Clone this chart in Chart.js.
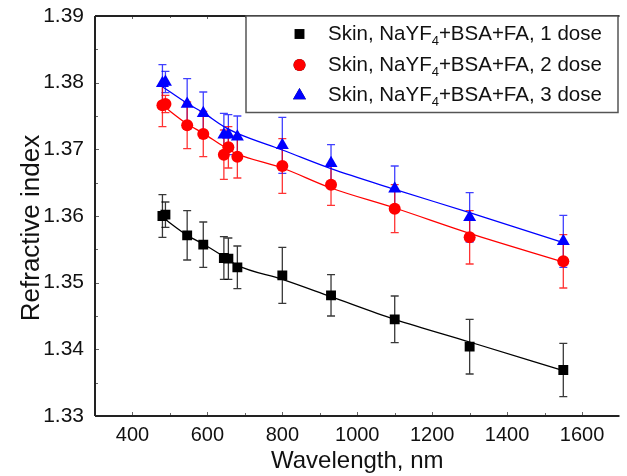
<!DOCTYPE html>
<html>
<head>
<meta charset="utf-8">
<script src="https://cdn.jsdelivr.net/npm/chart.js@4/dist/chart.umd.min.js"></script>
<style>
  html, body { margin: 0; padding: 0; background: #fff; }
  #wrap { width: 627px; height: 476px; position: relative; }
</style>
</head>
<body>
<div id="wrap"><canvas id="c" width="627" height="476"></canvas></div>
<script>
// ---- data ----
const wavelengths = [480, 488, 546, 589, 644, 656, 680, 800, 930, 1100, 1300, 1550];

const dose1 = [1.3600, 1.3602, 1.3571, 1.3557, 1.3537, 1.3536, 1.3523, 1.3511, 1.3481, 1.3445, 1.3404, 1.3369];
const dose1Err = [0.0032, 0.0019, 0.0037, 0.0034, 0.0032, 0.0031, 0.0032, 0.0042, 0.0031, 0.0035, 0.0041, 0.0040];

const dose2 = [1.3766, 1.3768, 1.3736, 1.3723, 1.3692, 1.3703, 1.3689, 1.3675, 1.3647, 1.3611, 1.3568, 1.3532];
const dose2Err = [0.0032, 0.0013, 0.0035, 0.0034, 0.0037, 0.0031, 0.0032, 0.0041, 0.0031, 0.0036, 0.0040, 0.0040];

const dose3 = [1.3799, 1.3801, 1.3768, 1.3754, 1.3722, 1.3722, 1.3719, 1.3706, 1.3679, 1.3641, 1.3598, 1.3562];
const dose3Err = [0.0028, 0.0016, 0.0038, 0.0032, 0.0032, 0.0030, 0.0031, 0.0042, 0.0028, 0.0034, 0.0037, 0.0039];

// fitted curves
const fitX = [480, 546, 589, 644, 680, 800, 930, 1100, 1300, 1550];
const fit1 = [1.3598, 1.3571, 1.3558, 1.3539, 1.3526, 1.3505, 1.3479, 1.3445, 1.3411, 1.3368];
const fit2 = [1.3766, 1.3738, 1.3724, 1.3704, 1.3693, 1.3672, 1.3642, 1.3612, 1.3574, 1.3531];
const fit3 = [1.3794, 1.3769, 1.3755, 1.3734, 1.3724, 1.3699, 1.3671, 1.3640, 1.3605, 1.3560];

const seriesNames = ['1 dose', '2 dose', '3 dose'];
const xTicks = [400, 600, 800, 1000, 1200, 1400, 1600];
const xMinorTicks = [500, 700, 900, 1100, 1300, 1500];
const yTicks = [1.33, 1.34, 1.35, 1.36, 1.37, 1.38, 1.39];
const yMinorTicks = [1.335, 1.345, 1.355, 1.365, 1.375, 1.385];

// ---- build ----
const FONT = "'Liberation Sans', Arial, sans-serif";
const colors = ['#000000', '#ff0000', '#0000ff'];
const errColors = ['rgba(0,0,0,0.78)', 'rgba(255,0,0,0.8)', 'rgba(0,0,255,0.75)'];
const styles = ['rect', 'circle', 'triangle'];
const radii = [7, 6, 7.5];
const vals = [dose1, dose2, dose3];
const errs = [dose1Err, dose2Err, dose3Err];
const fits = [fit1, fit2, fit3];

const pts = (xs, ys) => xs.map((x, i) => ({ x: x, y: ys[i] }));

const datasets = [];
// points (first = drawn on top)
for (let s = 2; s >= 0; s--) {
  datasets.push({
    type: 'scatter',
    label: seriesNames[s],
    data: pts(wavelengths, vals[s]),
    errs: errs[s],
    errColor: errColors[s],
    pointStyle: styles[s],
    pointRadius: radii[s],
    pointBackgroundColor: colors[s],
    pointBorderColor: colors[s],
    pointBorderWidth: 0,
    showLine: false,
    isPoints: true
  });
}
for (let s = 2; s >= 0; s--) {
  datasets.push({
    type: 'line',
    label: 'fit ' + seriesNames[s],
    data: pts(fitX, fits[s]),
    borderColor: colors[s],
    borderWidth: 1.3,
    pointRadius: 0,
    fill: false,
    cubicInterpolationMode: 'monotone'
  });
}

const errorBars = {
  id: 'errorBars',
  beforeDatasetsDraw(chart) {
    const ctx = chart.ctx, xs = chart.scales.x, ys = chart.scales.y;
    ctx.save();
    chart.data.datasets.forEach(ds => {
      if (!ds.isPoints) return;
      ctx.strokeStyle = ds.errColor;
      ctx.lineWidth = 1.3;
      ds.data.forEach((p, i) => {
        const e = ds.errs[i];
        const px = xs.getPixelForValue(p.x);
        const y1 = ys.getPixelForValue(p.y + e);
        const y2 = ys.getPixelForValue(p.y - e);
        ctx.beginPath();
        ctx.moveTo(px, y1); ctx.lineTo(px, y2);
        ctx.moveTo(px - 4, y1); ctx.lineTo(px + 4, y1);
        ctx.moveTo(px - 4, y2); ctx.lineTo(px + 4, y2);
        ctx.stroke();
      });
    });
    ctx.restore();
  }
};

const frame = {
  id: 'frame',
  afterDraw(chart) {
    const ctx = chart.ctx, a = chart.chartArea, xs = chart.scales.x, ys = chart.scales.y;
    ctx.save();
    // ticks (inward)
    ctx.strokeStyle = '#666';
    ctx.lineWidth = 1;
    ctx.beginPath();
    xTicks.forEach(v => { const p = Math.round(xs.getPixelForValue(v)) + 0.5;
      ctx.moveTo(p, a.bottom); ctx.lineTo(p, a.bottom - 4);
      ctx.moveTo(p, a.top); ctx.lineTo(p, a.top + 3); });
    xMinorTicks.forEach(v => { const p = Math.round(xs.getPixelForValue(v)) + 0.5;
      ctx.moveTo(p, a.bottom); ctx.lineTo(p, a.bottom - 3);
      ctx.moveTo(p, a.top); ctx.lineTo(p, a.top + 2); });
    yTicks.forEach(v => { const p = Math.round(ys.getPixelForValue(v)) + 0.5;
      ctx.moveTo(a.left, p); ctx.lineTo(a.left + 4, p); });
    yMinorTicks.forEach(v => { const p = Math.round(ys.getPixelForValue(v)) + 0.5;
      ctx.moveTo(a.left, p); ctx.lineTo(a.left + 3, p); });
    ctx.stroke();
    // axes frame
    ctx.strokeStyle = '#222';
    ctx.lineWidth = 2;
    ctx.beginPath();
    ctx.moveTo(a.left, a.top); ctx.lineTo(a.right, a.top);
    ctx.moveTo(a.left, a.top); ctx.lineTo(a.left, a.bottom);
    ctx.moveTo(a.left, a.bottom); ctx.lineTo(a.right, a.bottom);
    ctx.stroke();

    // legend box
    const lx = 246, ly = a.top, lw = 372, lh = 112.5 - a.top;
    ctx.fillStyle = '#fff';
    ctx.fillRect(lx, ly, lw, lh);
    ctx.strokeStyle = '#555';
    ctx.lineWidth = 1.5;
    ctx.strokeRect(lx, ly, lw, lh);
    const rowsY = [34, 65, 95.5];
    for (let s = 0; s < 3; s++) {
      const cy = rowsY[s];
      Chart.helpers.drawPoint(ctx, {
        pointStyle: styles[s], radius: [7, 6, 7.5][s], borderWidth: 0, rotation: 0
      }, 299.5, cy);
      ctx.fillStyle = colors[s];
      ctx.fill();
      // text
      ctx.fillStyle = '#111';
      ctx.textBaseline = 'middle';
      ctx.textAlign = 'left';
      ctx.font = '20.5px ' + FONT;
      let x = 328;
      const t1 = 'Skin, NaYF';
      ctx.fillText(t1, x, cy);
      x += ctx.measureText(t1).width;
      ctx.font = '13px ' + FONT;
      ctx.fillText('4', x, cy + 7);
      x += ctx.measureText('4').width;
      ctx.font = '20.5px ' + FONT;
      ctx.fillText('+BSA+FA, ' + seriesNames[s], x, cy);
    }

    // y axis title
    ctx.save();
    ctx.translate(32, 228);
    ctx.rotate(-Math.PI / 2);
    ctx.font = '26px ' + FONT;
    ctx.fillStyle = '#111';
    ctx.textAlign = 'center';
    ctx.textBaseline = 'middle';
    ctx.fillText('Refractive index', 0, 0);
    ctx.restore();
    ctx.restore();
  }
};

new Chart(document.getElementById('c'), {
  data: { datasets: datasets },
  options: {
    responsive: false,
    animation: false,
    devicePixelRatio: 1,
    layout: { padding: { top: 16, right: 0, left: 0, bottom: 0 } },
    plugins: { legend: { display: false }, tooltip: { enabled: false } },
    scales: {
      x: {
        type: 'linear', position: 'bottom', min: 300, max: 1700,
        grid: { display: false }, border: { display: false },
        afterBuildTicks: sc => { sc.ticks = xTicks.map(v => ({ value: v })); },
        afterFit: sc => { sc.height = 60; },
        ticks: { color: '#111', font: { family: FONT, size: 20, lineHeight: 1 }, padding: 1, maxRotation: 0, autoSkip: false, callback: v => String(v) },
        title: { display: true, text: 'Wavelength, nm', color: '#111', font: { family: FONT, size: 24 }, padding: { top: 0, bottom: 0 } }
      },
      y: {
        type: 'linear', min: 1.33, max: 1.39,
        grid: { display: false }, border: { display: false },
        afterBuildTicks: sc => { sc.ticks = yTicks.map(v => ({ value: v })); },
        afterFit: sc => { sc.width = 95; },
        ticks: { color: '#111', font: { family: FONT, size: 21 }, padding: 3, callback: v => v.toFixed(2) }
      }
    }
  },
  plugins: [errorBars, frame]
});
</script>
</body>
</html>
